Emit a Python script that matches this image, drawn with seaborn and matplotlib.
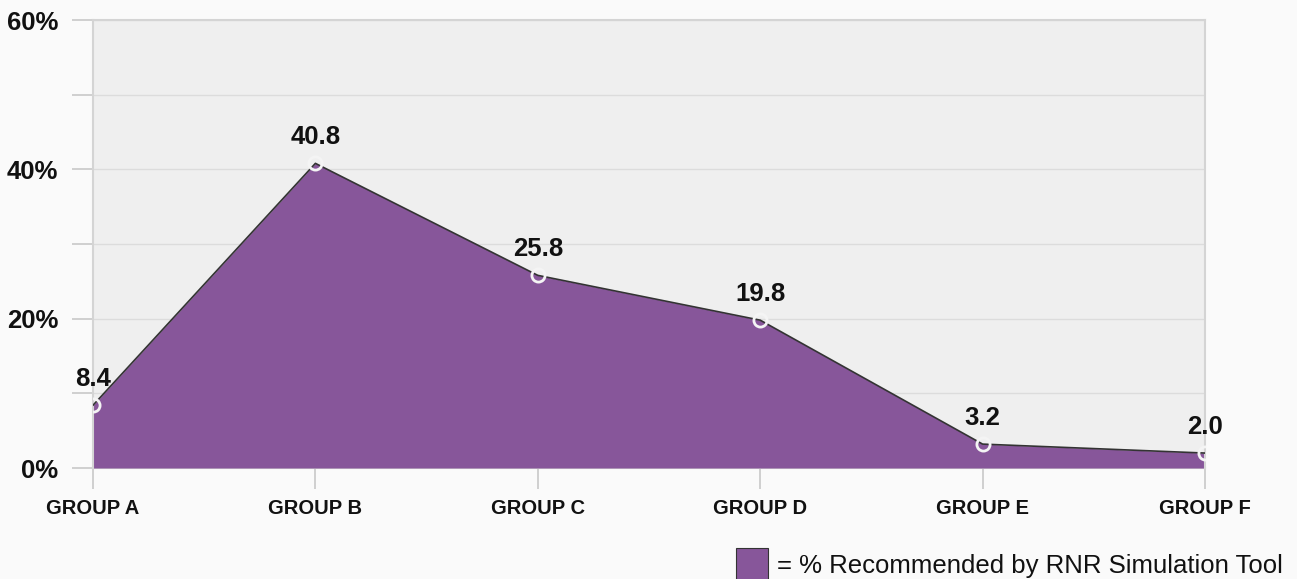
import matplotlib
matplotlib.use("Agg")
import matplotlib.pyplot as plt
import seaborn as sns
import pandas as pd
from matplotlib.patches import Rectangle

groups = ["GROUP A", "GROUP B", "GROUP C", "GROUP D", "GROUP E", "GROUP F"]
pct_recommended = [8.4, 40.8, 25.8, 19.8, 3.2, 2.0]
y_ticks = [0, 10, 20, 30, 40, 50, 60]
y_tick_labels = ["0%", "", "20%", "", "40%", "", "60%"]
legend_label = "= % Recommended by RNR Simulation Tool"

df = pd.DataFrame({"group": groups, "pct": pct_recommended})
df["pos"] = range(len(groups))

sns.set_style("white")
plt.rcParams["font.family"] = ["Liberation Sans", "DejaVu Sans"]

purple = "#87569a"
W, H = 1297, 579
fig = plt.figure(figsize=(W / 100, H / 100), dpi=100, facecolor="#fafafa")
ax = fig.add_axes([93 / W, 1 - 468 / H, (1205 - 93) / W, (468 - 20) / H])
ax.set_facecolor("#efefef")

ax.fill_between(df["pos"], df["pct"], 0, color=purple, linewidth=0, zorder=2)
sns.lineplot(data=df, x="pos", y="pct", ax=ax, color="#333333", linewidth=1.2,
             marker="o", markersize=9.5, markerfacecolor="none",
             markeredgecolor="#f4f4f4", markeredgewidth=2, zorder=3)

for x, y in zip(df["pos"], df["pct"]):
    ax.annotate(f"{y:.1f}", (x, y), xytext=(0, 14), textcoords="offset points",
                ha="center", va="baseline", fontsize=18.5, fontweight="bold",
                color="#111111", annotation_clip=False)

ax.set_xlim(0, len(groups) - 1)
ax.set_ylim(0, 60)
ax.set_xticks(df["pos"])
ax.set_xticklabels(groups, fontsize=14.5, fontweight="bold", color="#111111")
ax.set_yticks(y_ticks)
ax.set_yticklabels(y_tick_labels, fontsize=18.5, fontweight="bold", color="#111111")
ax.yaxis.grid(True, color="#dcdcdc", linewidth=1)
ax.set_axisbelow(True)
ax.tick_params(axis="y", length=15, width=1.2, color="#c8c8c8", pad=10, left=True)
ax.tick_params(axis="x", length=15, width=1.2, color="#c8c8c8", pad=7, bottom=True)
ax.set_xlabel("")
ax.set_ylabel("")
for side in ["left", "right", "top", "bottom"]:
    ax.spines[side].set_color("#d4d4d4")
    ax.spines[side].set_linewidth(1.5)
ax.spines["bottom"].set_zorder(1)

# legend: swatch + text placed along the bottom edge
fig.patches.append(Rectangle((736 / W, -4 / H), 32 / W, 35 / H,
                             transform=fig.transFigure, facecolor=purple,
                             edgecolor="#333333", linewidth=0.8))
fig.text(777 / W, 6 / H, legend_label, fontsize=18.5, color="#111111",
         ha="left", va="baseline")

fig.savefig("out.png", dpi=100, facecolor=fig.get_facecolor())
